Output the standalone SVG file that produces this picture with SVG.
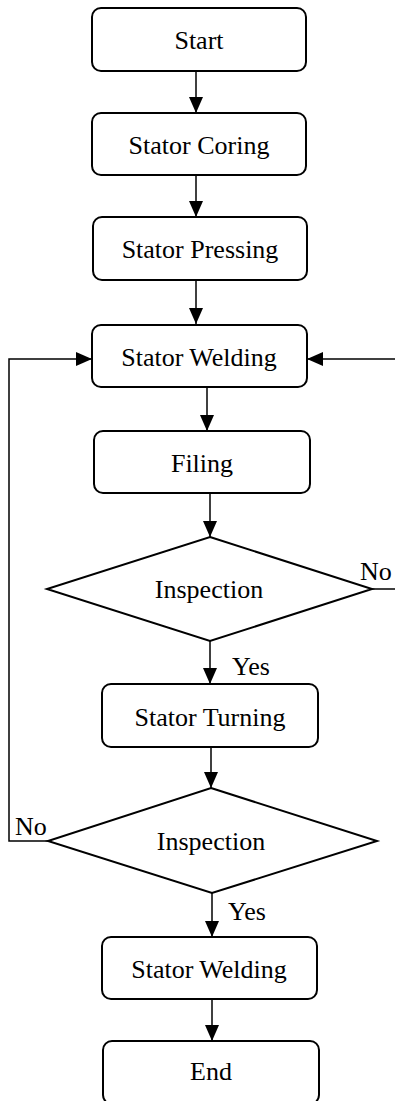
<svg xmlns="http://www.w3.org/2000/svg" width="395" height="1101" viewBox="0 0 395 1101">
<style>
.box{fill:#fff;stroke:#000;stroke-width:2}
.t{font-family:'Liberation Serif','Times New Roman',serif;font-size:26px;fill:#000}
.c{text-anchor:middle}
.ln{fill:none;stroke:#000;stroke-width:1.5}
</style>
<defs>
<marker id="ah" markerUnits="userSpaceOnUse" markerWidth="16" markerHeight="14" refX="16" refY="7" orient="auto">
<path d="M0,0 L16,7 L0,14 z" fill="#000"/>
</marker>
</defs>
<rect width="395" height="1101" fill="#fff"/>
<g id="connectors">
<line class="ln" x1="196" y1="71" x2="196" y2="113" marker-end="url(#ah)"/>
<line class="ln" x1="196" y1="175" x2="196" y2="217" marker-end="url(#ah)"/>
<line class="ln" x1="196" y1="280" x2="196" y2="324" marker-end="url(#ah)"/>
<line class="ln" x1="207" y1="387" x2="207" y2="431" marker-end="url(#ah)"/>
<line class="ln" x1="210" y1="493" x2="210" y2="537" marker-end="url(#ah)"/>
<line class="ln" x1="210" y1="641" x2="210" y2="684" marker-end="url(#ah)"/>
<line class="ln" x1="211" y1="747" x2="211" y2="788" marker-end="url(#ah)"/>
<line class="ln" x1="212" y1="893" x2="212" y2="937" marker-end="url(#ah)"/>
<line class="ln" x1="212" y1="999" x2="212" y2="1041" marker-end="url(#ah)"/>
<path class="ln" d="M48,841 H9 V359 H92" marker-end="url(#ah)"/>
<line class="ln" x1="395" y1="359" x2="307" y2="359" marker-end="url(#ah)"/>
<line class="ln" x1="372" y1="589" x2="395" y2="589"/>
<text class="t" x="360" y="580">No</text>
<text class="t" x="232" y="675">Yes</text>
<text class="t" x="15" y="835">No</text>
<text class="t" x="228" y="920">Yes</text>
</g>
<g id="start"><rect class="box" x="92" y="8" width="214" height="63" rx="9"/><text class="t c" x="199" y="49">Start</text></g>
<g id="coring"><rect class="box" x="92" y="113" width="214" height="62" rx="9"/><text class="t c" x="199" y="154">Stator Coring</text></g>
<g id="pressing"><rect class="box" x="93" y="217" width="214" height="63" rx="9"/><text class="t c" x="200" y="258">Stator Pressing</text></g>
<g id="welding1"><rect class="box" x="92" y="325" width="215" height="62" rx="9"/><text class="t c" x="199" y="366">Stator Welding</text></g>
<g id="filing"><rect class="box" x="94" y="431" width="216" height="62" rx="9"/><text class="t c" x="202" y="472">Filing</text></g>
<g id="inspection1"><polygon class="box" points="210,537 372,589 210,641 47,589"/><text class="t c" x="209" y="598">Inspection</text></g>
<g id="turning"><rect class="box" x="102" y="684" width="216" height="63" rx="9"/><text class="t c" x="210" y="726">Stator Turning</text></g>
<g id="inspection2"><polygon class="box" points="211,788 377,841 212,893 48,841"/><text class="t c" x="211" y="850">Inspection</text></g>
<g id="welding2"><rect class="box" x="102" y="937" width="215" height="62" rx="9"/><text class="t c" x="209" y="978">Stator Welding</text></g>
<g id="end"><rect class="box" x="103" y="1041" width="216" height="63" rx="9"/><text class="t c" x="211" y="1080">End</text></g>
</svg>
